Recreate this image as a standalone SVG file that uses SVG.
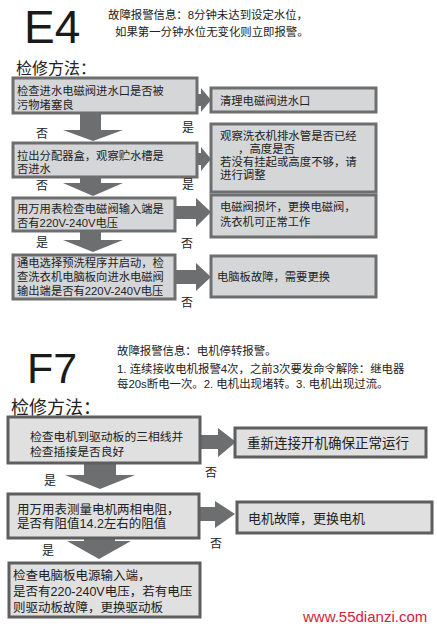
<svg xmlns="http://www.w3.org/2000/svg" width="437" height="628" viewBox="0 0 437 628">
<style>
.cj{font-family:"Liberation Sans","Noto Sans CJK SC",sans-serif;fill:#222}
.big{font-family:"Liberation Sans",Arial,sans-serif;fill:#1a1a1a}
.b1{fill:#d5d6d8;stroke:#6e6e6e;stroke-width:3}
.b2{fill:#e0e0e0;stroke:#5e5e5e;stroke-width:3}
.t{font-size:11.3px}
.t2{font-size:12.5px}
.lbl{font-size:12px;text-anchor:middle}
.arr{fill:#6d6e70}
</style>
<rect width="437" height="628" fill="#fff"/>

<!-- Headers -->
<g id="hdr-e4">
<text class="big" x="24" y="43" font-size="46">E4</text>
<text class="cj" x="108" y="19.4" font-size="11.4">故障报警信息：8分钟未达到设定水位，</text>
<text class="cj" x="115" y="36.4" font-size="11.4">如果第一分钟水位无变化则立即报警。</text>
<text class="cj" x="16" y="74" font-size="16">检修方法：</text>
<line x1="12" y1="79.5" x2="177" y2="79.5" stroke="#333" stroke-width="1"/>
</g>
<g id="hdr-f7">
<text class="big" x="27" y="383" font-size="43">F7</text>
<text class="cj" x="117" y="355.3" font-size="11.4">故障报警信息：电机停转报警。</text>
<text class="cj" x="117" y="373.3" font-size="11.4">1. 连续接收电机报警4次，之前3次要发命令解除：继电器</text>
<text class="cj" x="117" y="388.3" font-size="11.4">每20s断电一次。2. 电机出现堵转。3. 电机出现过流。</text>
<text class="cj" x="11" y="414" font-size="18">检修方法：</text>
</g>

<!-- Connectors -->
<g id="connectors" class="arr">
<polygon points="197,94 201,94 201,88 211,100 201,112 201,106 197,106"/>
<polygon points="197,153 201,153 201,147 211,159 201,171 201,165 197,165"/>
<polygon points="175,206 196,206 196,198 211,212 196,227 196,219 175,219"/>
<polygon points="175,270 196,270 196,263 211,277 196,291 196,284 175,284"/>
<polygon points="80,113 101,113 101,130 123,130 93,141 63,130 80,130"/>
<polygon points="80,177 101,177 101,183 123,183 93,196 63,183 80,183"/>
<polygon points="80,231 101,231 101,240 123,240 93,252 63,240 80,240"/>
<polygon points="200,435 218,435 218,428 236,442 218,457 218,449 200,449"/>
<polygon points="199,507 215,507 215,501 235,514 215,528 215,521 199,521"/>
<polygon points="84,463 116,463 116,475 135,475 100,489 65,475 84,475"/>
<polygon points="84,538 115,538 115,541 131,541 99,559 67,541 84,541"/>
</g>

<!-- E4 nodes -->
<g id="e4-q1">
<rect class="b1" x="13" y="78" width="184" height="35"/>
<text class="cj t" x="17" y="95">检查进水电磁阀进水口是否被</text>
<text class="cj t" x="17" y="108.5">污物堵塞良</text>
</g>
<g id="e4-a1">
<rect class="b1" x="211" y="88" width="165" height="24"/>
<text class="cj t" x="220" y="105">清理电磁阀进水口</text>
</g>
<g id="e4-q2">
<rect class="b1" x="13" y="143" width="184" height="34"/>
<text class="cj t" x="17" y="159.5">拉出分配器盒，观察贮水槽是</text>
<text class="cj t" x="17" y="173">否进水</text>
</g>
<g id="e4-a2">
<rect class="b1" x="211" y="124" width="165" height="68"/>
<text class="cj" x="220" y="139.5" font-size="11.4">观察洗衣机排水管是否已经</text>
<text class="cj" x="238" y="152.5" font-size="11.4">，高度是否</text>
<text class="cj" x="220" y="165.5" font-size="11.4">若没有挂起或高度不够，请</text>
<text class="cj" x="220" y="178.5" font-size="11.4">进行调整</text>
</g>
<g id="e4-q3">
<rect class="b1" x="13" y="198" width="162" height="33"/>
<text class="cj t" x="17" y="212.5">用万用表检查电磁阀输入端是</text>
<text class="cj t" x="17" y="226.5">否有220V-240V电压</text>
</g>
<g id="e4-a3">
<rect class="b1" x="211" y="195" width="165" height="42"/>
<text class="cj t" x="220" y="211">电磁阀损坏，更换电磁阀，</text>
<text class="cj t" x="220" y="225.5">洗衣机可正常工作</text>
</g>
<g id="e4-q4">
<rect class="b1" x="13" y="255" width="162" height="44"/>
<text class="cj t" x="17" y="266.5">通电选择预洗程序并启动，检</text>
<text class="cj t" x="17" y="280.5">查洗衣机电脑板向进水电磁阀</text>
<text class="cj t" x="17" y="294.5">输出端是否有220V-240V电压</text>
</g>
<g id="e4-a4">
<rect class="b1" x="211" y="256" width="165" height="41"/>
<text class="cj t" x="217" y="280.5">电脑板故障，需要更换</text>
</g>

<g id="e4-labels" class="cj lbl">
<text x="188" y="131.5">是</text>
<text x="42" y="137.5">否</text>
<text x="188" y="188.5">是</text>
<text x="42" y="189.5">否</text>
<text x="42" y="246.5">是</text>
<text x="187" y="247.5">否</text>
<text x="187" y="306.5">否</text>
</g>

<!-- F7 nodes -->
<g id="f7-q1">
<rect class="b2" x="8" y="417" width="192" height="46"/>
<text class="cj" x="30" y="440.5" font-size="11.8">检查电机到驱动板的三相线并</text>
<text class="cj" x="30" y="455.5" font-size="11.8">检查插接是否良好</text>
</g>
<g id="f7-a1">
<rect class="b2" x="235" y="428" width="191" height="29"/>
<text class="cj" x="247" y="448" font-size="13.5">重新连接开机确保正常运行</text>
</g>
<g id="f7-q2">
<rect class="b2" x="8" y="494" width="191" height="44"/>
<text class="cj t2" x="17" y="513.5">用万用表测量电机两相电阻，</text>
<text class="cj t2" x="17" y="528">是否有阻值14.2左右的阻值</text>
</g>
<g id="f7-a2">
<rect class="b2" x="237" y="502" width="195" height="31"/>
<text class="cj" x="248" y="523" font-size="13">电机故障，更换电机</text>
</g>
<g id="f7-q3">
<rect class="b2" x="9" y="563" width="191" height="54"/>
<text class="cj t2" x="13" y="580">检查电脑板电源输入端，</text>
<text class="cj t2" x="13" y="596">是否有220-240V电压，若有电压</text>
<text class="cj t2" x="13" y="612">则驱动板故障，更换驱动板</text>
</g>

<g id="f7-labels" class="cj lbl">
<text x="211" y="477">否</text>
<text x="50" y="484.5">是</text>
<text x="216" y="547.5">否</text>
<text x="48" y="554.5">是</text>
</g>

<text x="303" y="622" font-family="Liberation Sans, Arial, sans-serif" font-size="15" fill="#d0243a">www.55dianzi.com</text>
</svg>
